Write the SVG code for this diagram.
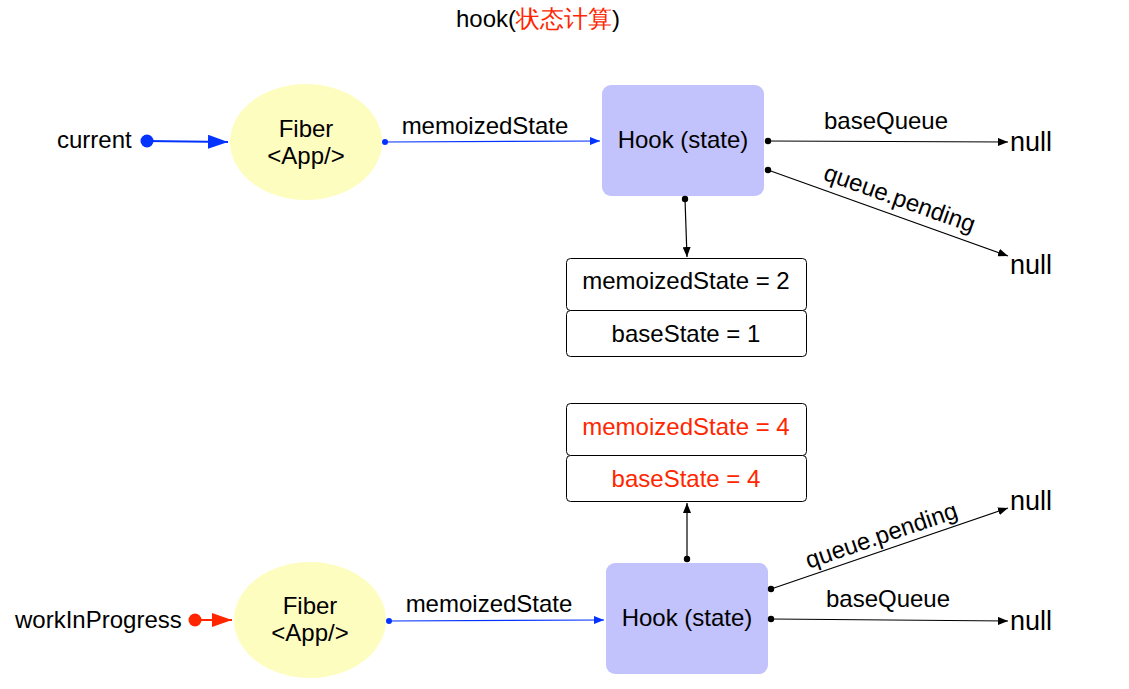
<svg xmlns="http://www.w3.org/2000/svg" width="1129" height="689" viewBox="0 0 1129 689">
<defs>
<style>
text{font-family:"Liberation Sans",Arial,Helvetica,sans-serif;font-size:24px;fill:#000}
.c{text-anchor:middle}
.red{fill:#FF2600}
.null{font-size:27px}
.fiber{fill:#FEFDC0;stroke:none}
.hook{fill:#C2C2FC;stroke:none}
.box{fill:#fff;stroke:#000;stroke-width:1}
.blk{stroke:#000;stroke-width:1.2;fill:none}
.blu{stroke:#0433FF;stroke-width:1.2;fill:none}
.blu2{stroke:#0433FF;stroke-width:2;fill:none}
.rd2{stroke:#FF2600;stroke-width:2;fill:none}
</style>
<marker id="ak" viewBox="0 0 10 8" refX="10" refY="4" markerWidth="10" markerHeight="8" markerUnits="userSpaceOnUse" orient="auto"><path d="M0,0L10,4L0,8z" fill="#000"/></marker>
<marker id="ab" viewBox="0 0 10 8" refX="10" refY="4" markerWidth="10" markerHeight="8" markerUnits="userSpaceOnUse" orient="auto"><path d="M0,0L10,4L0,8z" fill="#0433FF"/></marker>
<marker id="abig" viewBox="0 0 20 14" refX="20" refY="7" markerWidth="20" markerHeight="14" markerUnits="userSpaceOnUse" orient="auto"><path d="M0,0L20,7L0,14z" fill="#0433FF"/></marker>
<marker id="arbig" viewBox="0 0 20 14" refX="20" refY="7" markerWidth="20" markerHeight="14" markerUnits="userSpaceOnUse" orient="auto"><path d="M0,0L20,7L0,14z" fill="#FF2600"/></marker>
</defs>
<rect width="1129" height="689" fill="#fff"/>
<text x="456" y="27">hook(<tspan class="red">状态计算</tspan>)</text>
<text x="57" y="148">current</text>
<text x="15" y="628">workInProgress</text>
<g id="fiber-current"><ellipse class="fiber" cx="306" cy="142" rx="76" ry="58"/><text class="c" x="306" y="137">Fiber</text><text class="c" x="306" y="164">&lt;App/&gt;</text></g>
<g id="hook-current"><rect class="hook" x="602" y="85" width="162" height="111" rx="9"/><text class="c" x="683" y="148">Hook (state)</text></g>
<g id="state-current"><rect class="box" x="566.5" y="258.5" width="240" height="52" rx="4"/><text class="c" x="686" y="289">memoizedState = 2</text><rect class="box" x="566.5" y="310.5" width="240" height="46" rx="4"/><text class="c" x="686" y="342">baseState = 1</text></g>
<g id="null-1"><text class="null" x="1010" y="151">null</text></g>
<g id="null-2"><text class="null" x="1010" y="274">null</text></g>
<g id="fiber-wip"><ellipse class="fiber" cx="310" cy="620" rx="76" ry="58"/><text class="c" x="310" y="614">Fiber</text><text class="c" x="310" y="641">&lt;App/&gt;</text></g>
<g id="hook-wip"><rect class="hook" x="606" y="563" width="162" height="111" rx="9"/><text class="c" x="687" y="626">Hook (state)</text></g>
<g id="state-wip"><rect class="box" x="566.5" y="403.5" width="240" height="52" rx="4"/><text class="c red" x="686" y="435">memoizedState = 4</text><rect class="box" x="566.5" y="455.5" width="240" height="46" rx="4"/><text class="c red" x="686" y="487">baseState = 4</text></g>
<g id="null-3"><text class="null" x="1010" y="510">null</text></g>
<g id="null-4"><text class="null" x="1010" y="630">null</text></g>
<g id="connectors">
<circle cx="147" cy="141" r="6.5" fill="#0433FF"/>
<line class="blu2" x1="147" y1="141" x2="228" y2="142" marker-end="url(#abig)"/>
<circle cx="385" cy="142" r="3" fill="#0433FF"/>
<line class="blu" x1="385" y1="142" x2="600" y2="141" marker-end="url(#ab)"/>
<text class="c" x="485" y="134">memoizedState</text>
<circle cx="768" cy="141" r="3.2" fill="#000"/>
<line class="blk" x1="768" y1="141" x2="1008" y2="142" marker-end="url(#ak)"/>
<text class="c" x="886" y="129">baseQueue</text>
<circle cx="768" cy="170" r="3.2" fill="#000"/>
<line class="blk" x1="768" y1="170" x2="1008" y2="256" marker-end="url(#ak)"/>
<text class="c" transform="translate(897,206) rotate(19.7)">queue.pending</text>
<circle cx="685" cy="199" r="3.2" fill="#000"/>
<line class="blk" x1="685" y1="199" x2="687" y2="257" marker-end="url(#ak)"/>
<circle cx="195" cy="620" r="6.5" fill="#FF2600"/>
<line class="rd2" x1="195" y1="620" x2="232" y2="620" marker-end="url(#arbig)"/>
<circle cx="389" cy="621" r="3" fill="#0433FF"/>
<line class="blu" x1="389" y1="621" x2="604" y2="620" marker-end="url(#ab)"/>
<text class="c" x="489" y="612">memoizedState</text>
<circle cx="687" cy="559" r="3.2" fill="#000"/>
<line class="blk" x1="687" y1="559" x2="687" y2="503" marker-end="url(#ak)"/>
<circle cx="771" cy="589" r="3.2" fill="#000"/>
<line class="blk" x1="771" y1="589" x2="1008" y2="508" marker-end="url(#ak)"/>
<text class="c" transform="translate(884,543) rotate(-18.9)">queue.pending</text>
<circle cx="771" cy="619" r="3.2" fill="#000"/>
<line class="blk" x1="771" y1="619" x2="1008" y2="621" marker-end="url(#ak)"/>
<text class="c" x="888" y="607">baseQueue</text>
</g>
</svg>
